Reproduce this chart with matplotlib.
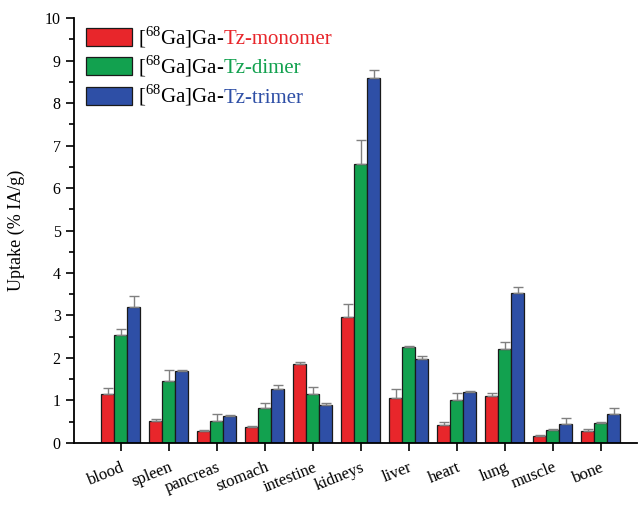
import numpy as np
import matplotlib
matplotlib.use("Agg")
import matplotlib.pyplot as plt
from matplotlib.ticker import MultipleLocator

plt.rcParams['font.family'] = ['Liberation Serif', 'DejaVu Serif']
plt.rcParams['mathtext.fontset'] = 'custom'
plt.rcParams['mathtext.rm'] = 'Liberation Serif'

# data
organs = ["blood", "spleen", "pancreas", "stomach", "intestine", "kidneys",
          "liver", "heart", "lung", "muscle", "bone"]
monomer = [1.15, 0.52, 0.28, 0.37, 1.86, 2.97, 1.06, 0.42, 1.10, 0.16, 0.28]
monomer_err = [0.15, 0.04, 0.02, 0.03, 0.05, 0.30, 0.21, 0.07, 0.08, 0.02, 0.05]
dimer = [2.54, 1.46, 0.52, 0.82, 1.15, 6.56, 2.26, 1.01, 2.21, 0.30, 0.47]
dimer_err = [0.14, 0.26, 0.16, 0.12, 0.17, 0.57, 0.03, 0.17, 0.17, 0.02, 0.03]
trimer = [3.20, 1.69, 0.63, 1.27, 0.89, 8.59, 1.98, 1.20, 3.53, 0.45, 0.68]
trimer_err = [0.26, 0.02, 0.02, 0.10, 0.04, 0.19, 0.07, 0.02, 0.14, 0.14, 0.14]

series = [
    (monomer, monomer_err, "#e8262b", "Tz-monomer"),
    (dimer, dimer_err, "#12a14f", "Tz-dimer"),
    (trimer, trimer_err, "#2e4fa6", "Tz-trimer"),
]

fig = plt.figure(figsize=(6.42, 5.05), dpi=100)
ax = fig.add_axes([0.115, 0.123, 0.877, 0.841])

x = np.arange(1, len(organs) + 1)
w = 0.27
for i, (vals, errs, col, name) in enumerate(series):
    ax.bar(x + (i - 1) * w, vals, w, color=col, edgecolor="#1a1a1a", linewidth=0.9,
           yerr=[np.zeros(len(errs)), errs], ecolor="#808080",
           error_kw=dict(elinewidth=1.0, capsize=3.5, capthick=1.0), label=name)

ax.set_xlim(0.02, 11.75)
ax.set_ylim(0, 10)
ax.yaxis.set_major_locator(MultipleLocator(1))
ax.yaxis.set_minor_locator(MultipleLocator(0.5))
ax.set_xticks(x)
ax.set_xticklabels(organs, rotation=22, ha="right", rotation_mode="anchor", fontsize=12)
ax.tick_params(axis="y", which="major", length=6, width=1.2, labelsize=11.5)
ax.tick_params(axis="y", which="minor", length=3.5, width=1.2)
ax.tick_params(axis="x", length=6, width=1.2, pad=6)
for s in ["top", "right"]:
    ax.spines[s].set_visible(False)
for s in ["left", "bottom"]:
    ax.spines[s].set_linewidth(1.3)
ax.set_ylabel("Uptake (% IA/g)", fontsize=13, labelpad=14)

leg = ax.legend(["[$^{68}$Ga]Ga-"] * 3, loc="upper left", bbox_to_anchor=(-0.012, 1.03),
                frameon=False, fontsize=15, handlelength=2.2, handleheight=0.95,
                handletextpad=0.3, labelspacing=0.18)
fig.canvas.draw()
for txt, (_, _, col, name) in zip(leg.get_texts(), series):
    # x: right end of the black part, y: its baseline
    ax.annotate(name, xy=(1, txt.get_position()[1]),
                xycoords=(txt, txt.get_transform()),
                va="baseline", ha="left", color=col, fontsize=15)

fig.savefig("out.png", dpi=100)
